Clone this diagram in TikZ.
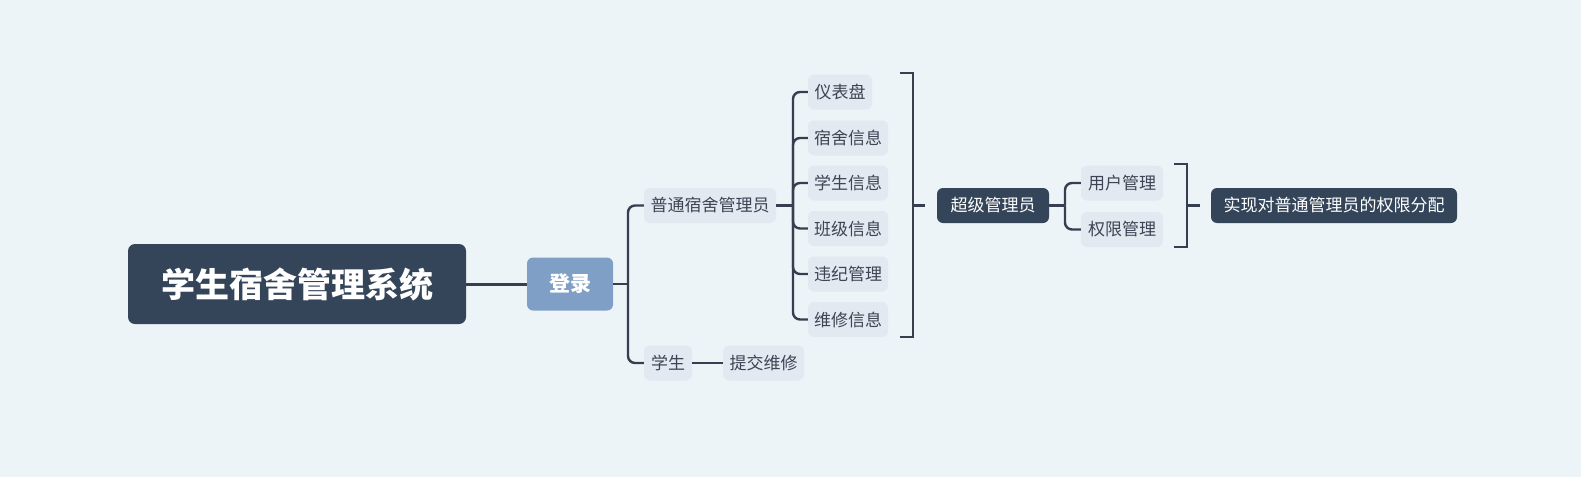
\documentclass[tikz,border=0pt]{standalone}
\usepackage{fontspec}
\newfontfamily\cjk{Noto Sans CJK SC}
\usetikzlibrary{calc}
\definecolor{bgc}{HTML}{EDF4F8}
\definecolor{darkbox}{HTML}{344459}
\definecolor{loginbox}{HTML}{809FC6}
\definecolor{lightbox}{HTML}{E3E9F1}
\definecolor{linec}{HTML}{363F50}
\definecolor{txtc}{HTML}{3D4453}
\tikzset{
  rootbox/.style={fill=darkbox, rounded corners=7, text=white, minimum width=338, minimum height=80, inner sep=0, font=\cjk\bfseries\fontsize{34}{40}\selectfont},
  loginnode/.style={fill=loginbox, rounded corners=6, text=white, minimum width=86, minimum height=53, inner sep=0, font=\cjk\bfseries\fontsize{21}{24}\selectfont},
  leafbox/.style={fill=lightbox, rounded corners=6, text=txtc, minimum height=35, inner sep=0, font=\cjk\fontsize{17}{20}\selectfont},
  darknode/.style={fill=darkbox, rounded corners=6, text=white, minimum height=35, inner sep=0, font=\cjk\fontsize{17}{20}\selectfont},
  conn/.style={draw=linec, line width=2.4, rounded corners=7},
}
\begin{document}
\begin{tikzpicture}[x=1pt,y=-1pt]
\fill[bgc] (0,0) rectangle (1581,477);
\useasboundingbox (0,0) rectangle (1581,477);

\node[rootbox] (root) at (297,284) {学生宿舍管理系统};
\node[loginnode] (login) at (570,284) {登录};
\node[leafbox, minimum width=132] (admin) at (710,205.5) {普通宿舍管理员};
\node[leafbox, minimum width=48] (stu) at (668,363) {学生};
\node[leafbox, minimum width=81] (repair) at (763.5,363) {提交维修};

\node[leafbox, minimum width=64] (c1) at (840,92) {仪表盘};
\node[leafbox, minimum width=80] (c2) at (848,138) {宿舍信息};
\node[leafbox, minimum width=80] (c3) at (848,183) {学生信息};
\node[leafbox, minimum width=80] (c4) at (848,228.5) {班级信息};
\node[leafbox, minimum width=80] (c5) at (848,274) {违纪管理};
\node[leafbox, minimum width=80] (c6) at (848,319.5) {维修信息};

\node[darknode, minimum width=112] (super) at (993,205.5) {超级管理员};
\node[leafbox, minimum width=82] (user) at (1122,183) {用户管理};
\node[leafbox, minimum width=82] (perm) at (1122,229.5) {权限管理};
\node[darknode, minimum width=246] (final) at (1334,205.5) {实现对普通管理员的权限分配};

% root -> login
\draw[draw=linec, line width=3] (root.east) -- (login.west);
% login -> branches
\coordinate (s1) at (628,284);
\draw[conn] (login.east) -- (s1);
\draw[conn] (admin.west) -| (s1);
\draw[conn] (stu.west) -| (s1);
\draw[conn] (stu.east) -- (repair.west);
% admin -> children
\coordinate (s2) at (793,205.5);
\draw[conn] (admin.east) -- (s2);
\foreach \c in {c1,c2,c3,c4,c5,c6} {
  \draw[conn] (\c.west) -| (s2);
}
% bracket 1
\coordinate (b1t) at (900,73);
\coordinate (b1b) at (900,337);
\coordinate (b1m) at (913,205.5);
\draw[conn, rounded corners=0] (b1t) -- (913,73) -- (913,337) -- (b1b);
\draw[conn] (b1m) -- ($(super.west)+(-12,0)$);
% super -> children
\coordinate (s3) at (1065,205.5);
\draw[conn] (super.east) -- (s3);
\draw[conn] (user.west) -| (s3);
\draw[conn] (perm.west) -| (s3);
% bracket 2
\coordinate (b2t) at (1174,164);
\coordinate (b2b) at (1174,247);
\coordinate (b2m) at (1187,205.5);
\draw[conn, rounded corners=0] (b2t) -- (1187,164) -- (1187,247) -- (b2b);
\draw[conn] (b2m) -- ($(final.west)+(-11,0)$);
\end{tikzpicture}
\end{document}
